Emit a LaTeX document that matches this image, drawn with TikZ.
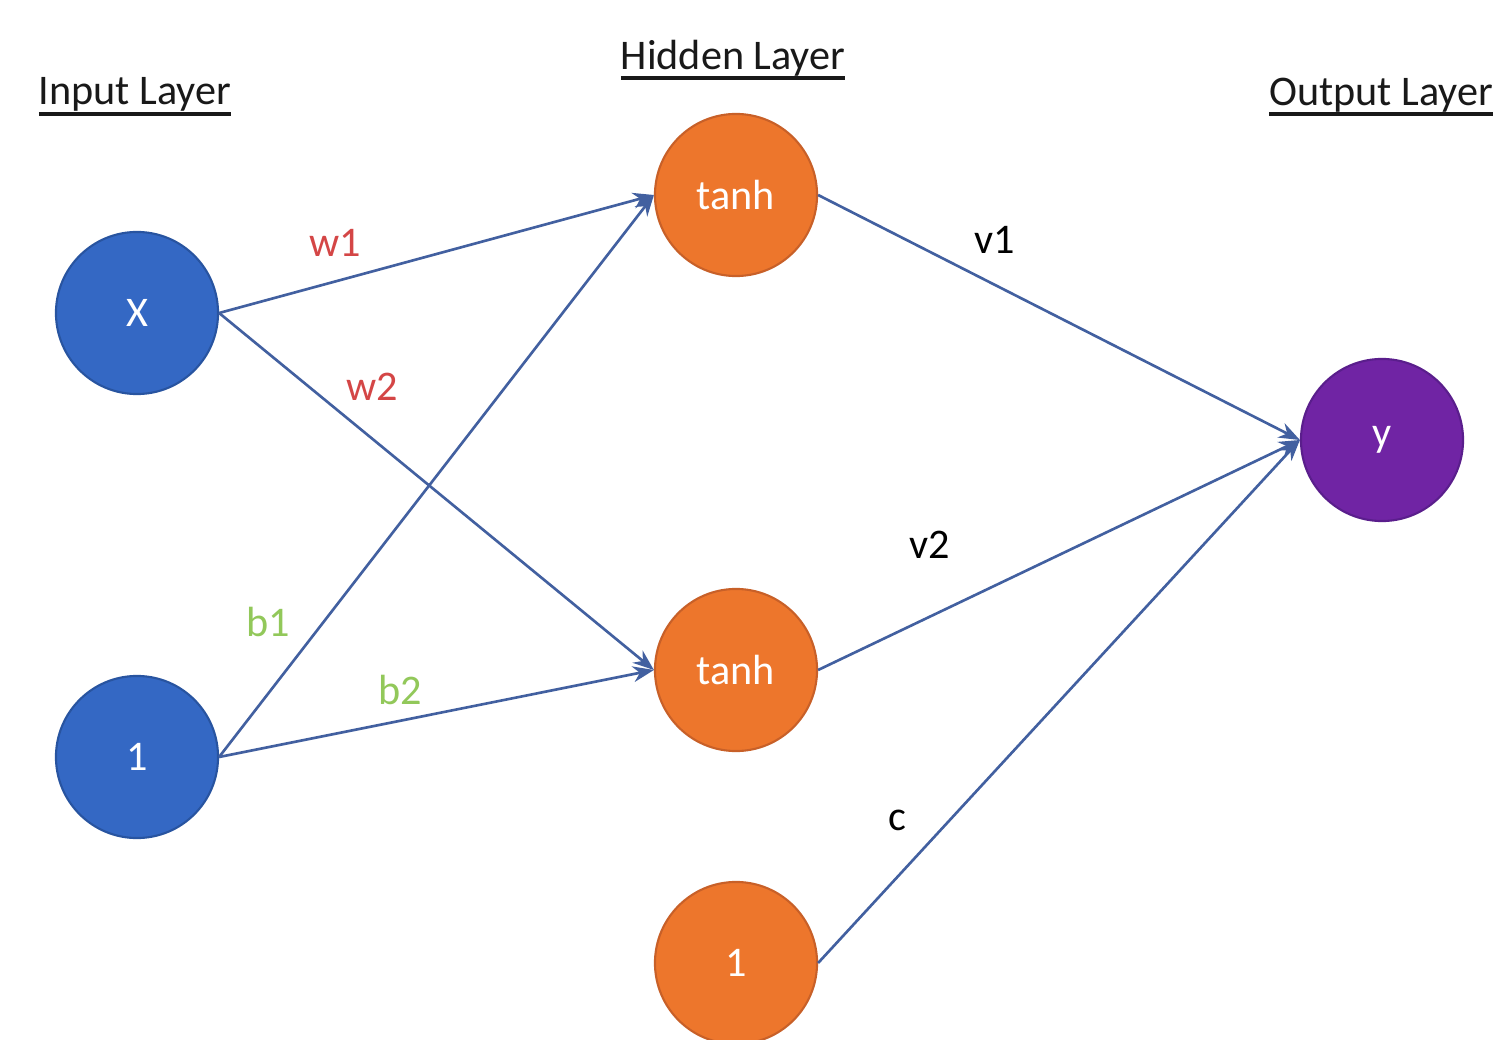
\documentclass[tikz,border=0pt]{standalone}
\usepackage{fontspec}
\setmainfont{Carlito}
\usetikzlibrary{arrows.meta}
\definecolor{inblue}{RGB}{52,104,196}
\definecolor{inblueline}{RGB}{40,84,160}
\definecolor{hidorange}{RGB}{237,118,44}
\definecolor{hidorangeline}{RGB}{200,96,40}
\definecolor{outpurple}{RGB}{112,36,164}
\definecolor{outpurpleline}{RGB}{90,30,140}
\definecolor{edgeblue}{RGB}{66,96,160}
\definecolor{wred}{RGB}{212,70,70}
\definecolor{bgreen}{RGB}{146,200,90}
% underline with a heavier rule than \underline
\newcommand\titleul[1]{\setbox0\hbox{#1}\rlap{\raisebox{-3.2pt}{\rule{\wd0}{1.1pt}}}\box0}
\tikzset{
  neuron/.style={circle, minimum size=1.62cm, inner sep=0pt, line width=0.6pt,
    text=white, font=\fontsize{12}{14}\selectfont},
  inneuron/.style={neuron, fill=inblue, draw=inblueline},
  hidneuron/.style={neuron, fill=hidorange, draw=hidorangeline},
  outneuron/.style={neuron, fill=outpurple, draw=outpurpleline},
  layertitle/.style={font=\fontsize{12}{14}\selectfont, text=black!90},
  wlabel/.style={font=\fontsize{12}{14}\selectfont},
  link/.style={draw=edgeblue, line width=0.75pt, -{Stealth[length=6pt,width=4.5pt]}}
}
\begin{document}
\begin{tikzpicture}[x=0.01cm, y=-0.01cm]
  \clip (0,0) rectangle (1497,1040);
  \useasboundingbox (0,0) rectangle (1497,1040);
  \fill[white] (0,0) rectangle (1497,1040);

  % layer titles
  \node[layertitle] (tin)  at (135,97)  {\titleul{Input Layer}};
  \node[layertitle] (thid) at (733,60)  {\titleul{Hidden Layer}};
  \node[layertitle] (tout) at (1381,97) {\titleul{Output Layer}};

  % neurons
  \node[inneuron]  (x)   at (137,313) {X};
  \node[inneuron]  (one) at (137,757) {1};
  \node[hidneuron] (h1)  at (736,195) {tanh};
  \node[hidneuron] (h2)  at (736,670) {tanh};
  \node[hidneuron] (hb)  at (736,963) {1};
  \node[outneuron] (y)   at (1382,440) {y};

  % connections
  \draw[link] (x.east)   -- (h1.west);
  \draw[link] (x.east)   -- (h2.west);
  \draw[link] (one.east) -- (h1.west);
  \draw[link] (one.east) -- (h2.west);
  \draw[link] (h1.east)  -- (y.west);
  \draw[link] (h2.east)  -- (y.west);
  \draw[link] (hb.east)  -- (y.west);

  % weight labels
  \node[wlabel, text=wred]   (lw1) at (335,243) {w1};
  \node[wlabel, text=wred]   (lw2) at (372,387) {w2};
  \node[wlabel, text=bgreen] (lb1) at (268,622) {b1};
  \node[wlabel, text=bgreen] (lb2) at (400,690) {b2};
  \node[wlabel] (lv1) at (995,240) {v1};
  \node[wlabel] (lv2) at (930,545) {v2};
  \node[wlabel] (lc)  at (897,820) {c};
\end{tikzpicture}
\end{document}
